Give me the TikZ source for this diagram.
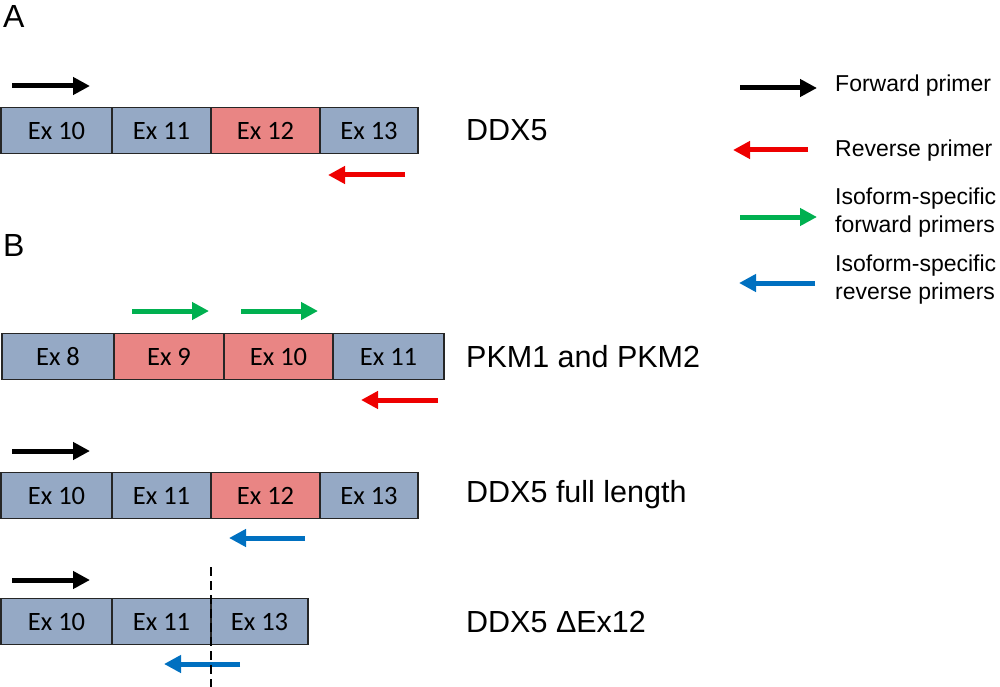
\documentclass[tikz,border=0pt]{standalone}
\usepackage{fontspec}
\setmainfont{Liberation Sans}
\newfontfamily\calibri{Carlito}
\usetikzlibrary{arrows.meta, positioning}

\definecolor{exgrey}{HTML}{95A9C5}
\definecolor{exred}{HTML}{E98584}
\definecolor{prred}{HTML}{EE0000}
\definecolor{prgreen}{HTML}{00B050}
\definecolor{prblue}{HTML}{0070C0}

\tikzset{
  exon/.style={draw=black!85, line width=1.2pt, inner sep=0pt, minimum height=46pt,
    font=\calibri\fontsize{26.5}{28}\selectfont},
  grey/.style={exon, fill=exgrey},
  pink/.style={exon, fill=exred},
  gene/.style={anchor=west, inner sep=0pt, font=\fontsize{30.5}{32}\selectfont},
  panel/.style={anchor=west, inner sep=0pt, font=\fontsize{32}{34}\selectfont},
  legend/.style={anchor=west, inner sep=0pt, align=left, font=\fontsize{23}{28}\selectfont},
  primer/.style={line width=5pt, -{Triangle[length=17pt,width=17pt]}},
}

\begin{document}
\begin{tikzpicture}[x=1pt, y=-1pt]
    \useasboundingbox (0,0) rectangle (1000,687);
    % panel A
    \node[panel] (A) at (3,16) {A};
    \draw[primer, black] (12,86) -- (90,86);
    \node[grey, minimum width=111pt] (a10) at (56.5,130.5) {Ex 10};
    \node[grey, minimum width=99pt] (a11) at (161.5,130.5) {Ex 11};
    \node[pink, minimum width=109pt] (a12) at (265.5,130.5) {Ex 12};
    \node[grey, minimum width=98pt] (a13) at (369,130.5) {Ex 13};
    \draw[primer, prred] (405,175) -- (328,175);
    \node[gene] (ddx) at (466,130) {DDX5};

    % panel B
    \node[panel] (B) at (3,245) {B};
    \draw[primer, prgreen] (132,311) -- (209,311);
    \draw[primer, prgreen] (241,311) -- (318,311);
    \node[grey, minimum width=112pt] (p8) at (58,356.5) {Ex 8};
    \node[pink, minimum width=110pt] (p9) at (169,356.5) {Ex 9};
    \node[pink, minimum width=109pt] (p10) at (278.5,356.5) {Ex 10};
    \node[grey, minimum width=111pt] (p11) at (388.5,356.5) {Ex 11};
    \draw[primer, prred] (438,400) -- (361,400);
    \node[gene] (pkm) at (466,357) {PKM1 and PKM2};

    \draw[primer, black] (12,451) -- (90,451);
    \node[grey, minimum width=111pt] (f10) at (56.5,495.5) {Ex 10};
    \node[grey, minimum width=99pt] (f11) at (161.5,495.5) {Ex 11};
    \node[pink, minimum width=109pt] (f12) at (265.5,495.5) {Ex 12};
    \node[grey, minimum width=98pt] (f13) at (369,495.5) {Ex 13};
    \draw[primer, prblue] (305,538) -- (229,538);
    \node[gene] (full) at (466,495) {DDX5 full length};

    \draw[primer, black] (12,580) -- (90,580);
    \node[grey, minimum width=111pt] (d10) at (56.5,621.5) {Ex 10};
    \node[grey, minimum width=99pt] (d11) at (161.5,621.5) {Ex 11};
    \node[grey, minimum width=97pt] (d13) at (259.5,621.5) {Ex 13};
    \draw[primer, prblue] (240,664) -- (164,664);
    \draw[line width=2.2pt, dash pattern=on 9pt off 5pt] (211,567) -- (211,687);
    \node[gene] (del) at (466,622) {DDX5 ΔEx12};

    % legend
    \draw[primer, black] (740,88) -- (817,88);
    \node[legend] (lf) at (835,86) {Forward primer};
    \draw[primer, prred] (808,150) -- (733,150);
    \node[legend] (lr) at (835,151) {Reverse primer};
    \draw[primer, prgreen] (740,217) -- (817,217);
    \node[legend] (lg) at (835,213) {Isoform-specific\\forward primers};
    \draw[primer, prblue] (815,283) -- (739,283);
    \node[legend] (lb) at (835,280) {Isoform-specific\\reverse primers};
\end{tikzpicture}
\end{document}
